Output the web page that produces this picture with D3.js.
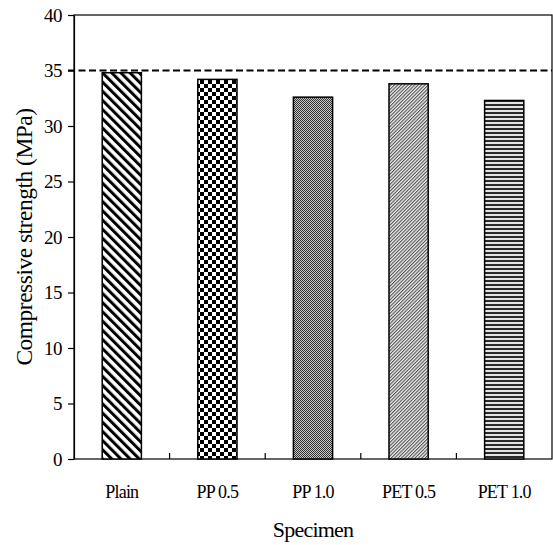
<!DOCTYPE html>
<html>
<head>
<meta charset="utf-8">
<script src="https://cdn.jsdelivr.net/npm/d3@7"></script>
<style>
	body { margin: 0; background: #fff; }
	text { font-family: "Liberation Serif", "Times New Roman", serif; fill: #000; }
</style>
</head>
<body>
<script>
var categories = ["Plain", "PP 0.5", "PP 1.0", "PET 0.5", "PET 1.0"];
var strength = [34.8, 34.2, 32.6, 33.8, 32.3];
var patterns = ["diagDown", "checker", "fineChecker", "diagUp", "horiz"];
var yTicks = [0, 5, 10, 15, 20, 25, 30, 35, 40];
var refLine = 35;

var w = 553;
var h = 545;
var margin = {top: 15, right: 1, bottom: 86, left: 74};

var svg = d3.select("body")
			.append("svg")
			.attr("width", w)
			.attr("height", h);

//Hatch patterns for the bars
var defs = svg.append("defs");

var p1 = defs.append("pattern")
	.attr("id", "diagDown")
	.attr("patternUnits", "userSpaceOnUse")
	.attr("width", 6.5)
	.attr("height", 6.5)
	.attr("patternTransform", "rotate(-45)");
p1.append("rect").attr("width", 6.5).attr("height", 6.5).attr("fill", "#fff");
p1.append("rect").attr("width", 3).attr("height", 6.5).attr("fill", "#000");

var p2 = defs.append("pattern")
	.attr("id", "checker")
	.attr("patternUnits", "userSpaceOnUse")
	.attr("width", 8)
	.attr("height", 8);
p2.append("rect").attr("width", 8).attr("height", 8).attr("fill", "#fff");
p2.append("rect").attr("width", 4).attr("height", 4).attr("fill", "#000");
p2.append("rect").attr("x", 4).attr("y", 4).attr("width", 4).attr("height", 4).attr("fill", "#000");

var p3 = defs.append("pattern")
	.attr("id", "fineChecker")
	.attr("patternUnits", "userSpaceOnUse")
	.attr("width", 2)
	.attr("height", 2);
p3.append("rect").attr("width", 2).attr("height", 2).attr("fill", "#c8c8c8");
p3.append("rect").attr("width", 1).attr("height", 1).attr("fill", "#333");
p3.append("rect").attr("x", 1).attr("y", 1).attr("width", 1).attr("height", 1).attr("fill", "#333");

var p4 = defs.append("pattern")
	.attr("id", "diagUp")
	.attr("patternUnits", "userSpaceOnUse")
	.attr("width", 2.4)
	.attr("height", 2.4)
	.attr("patternTransform", "rotate(45)");
p4.append("rect").attr("width", 2.4).attr("height", 2.4).attr("fill", "#eee");
p4.append("rect").attr("width", 1.1).attr("height", 2.4).attr("fill", "#555");

var p5 = defs.append("pattern")
	.attr("id", "horiz")
	.attr("patternUnits", "userSpaceOnUse")
	.attr("width", 8)
	.attr("height", 4);
p5.append("rect").attr("width", 8).attr("height", 4).attr("fill", "#e4e4e4");
p5.append("rect").attr("width", 8).attr("height", 2).attr("fill", "#2a2a2a");

//Scales
var x = d3.scaleBand()
	.domain(categories)
	.range([margin.left, w - margin.right])
	.paddingInner(0.59)
	.paddingOuter(0.295);

var y = d3.scaleLinear()
	.domain([0, 40])
	.range([h - margin.bottom, margin.top]);

//Frame
svg.append("rect")
	.attr("x", margin.left)
	.attr("y", margin.top)
	.attr("width", w - margin.right - margin.left)
	.attr("height", h - margin.bottom - margin.top)
	.attr("fill", "none")
	.attr("stroke", "#000")
	.attr("stroke-width", 1.2);

//Bars
svg.selectAll("rect.bar")
	.data(strength)
	.enter()
	.append("rect")
	.attr("class", "bar")
	.attr("x", function(d, i) {
		return x(categories[i]);
	})
	.attr("y", function(d) {
		return y(d);
	})
	.attr("width", x.bandwidth())
	.attr("height", function(d) {
		return y(0) - y(d);
	})
	.attr("fill", function(d, i) {
		return "url(#" + patterns[i] + ")";
	})
	.attr("stroke", "#000")
	.attr("stroke-width", 1.5);

//Dashed reference line
svg.append("line")
	.attr("x1", margin.left - 6)
	.attr("x2", w - margin.right)
	.attr("y1", y(refLine))
	.attr("y2", y(refLine))
	.attr("stroke", "#000")
	.attr("stroke-width", 2)
	.attr("stroke-dasharray", "7,3.5");

//Y axis
var yAxis = svg.append("g")
	.attr("transform", "translate(" + margin.left + ",0)")
	.call(d3.axisLeft(y).tickValues(yTicks).tickSize(6).tickPadding(6).tickSizeOuter(0));
yAxis.select(".domain").attr("stroke-width", 1.2);
yAxis.selectAll(".tick line").attr("stroke-width", 1.2);
yAxis.selectAll(".tick text")
	.attr("font-family", "Liberation Serif")
	.attr("font-size", "19px")
	.attr("letter-spacing", "-0.5px")
	.attr("fill", "#000");

//X axis: small inward ticks between categories
var bounds = d3.range(1, categories.length).map(function(i) {
	return margin.left + i * x.step();
});
svg.selectAll("line.xtick")
	.data(bounds)
	.enter()
	.append("line")
	.attr("class", "xtick")
	.attr("x1", function(d) { return d; })
	.attr("x2", function(d) { return d; })
	.attr("y1", y(0))
	.attr("y2", y(0) - 6)
	.attr("stroke", "#000")
	.attr("stroke-width", 1.2);

svg.selectAll("text.xlab")
	.data(categories)
	.enter()
	.append("text")
	.attr("class", "xlab")
	.text(function(d) { return d; })
	.attr("text-anchor", "middle")
	.attr("x", function(d) { return x(d) + x.bandwidth() / 2; })
	.attr("y", 498)
	.attr("font-size", "18px")
	.attr("letter-spacing", "-0.8px");

//Axis titles
svg.append("text")
	.text("Specimen")
	.attr("text-anchor", "middle")
	.attr("x", (margin.left + w - margin.right) / 2)
	.attr("y", 537)
	.attr("font-size", "22px")
	.attr("letter-spacing", "-0.8px");

svg.append("text")
	.text("Compressive strength (MPa)")
	.attr("text-anchor", "middle")
	.attr("transform", "translate(32," + (margin.top + h - margin.bottom) / 2 + ") rotate(-90)")
	.attr("font-size", "23.5px")
	.attr("letter-spacing", "-0.5px");
</script>
</body>
</html>
